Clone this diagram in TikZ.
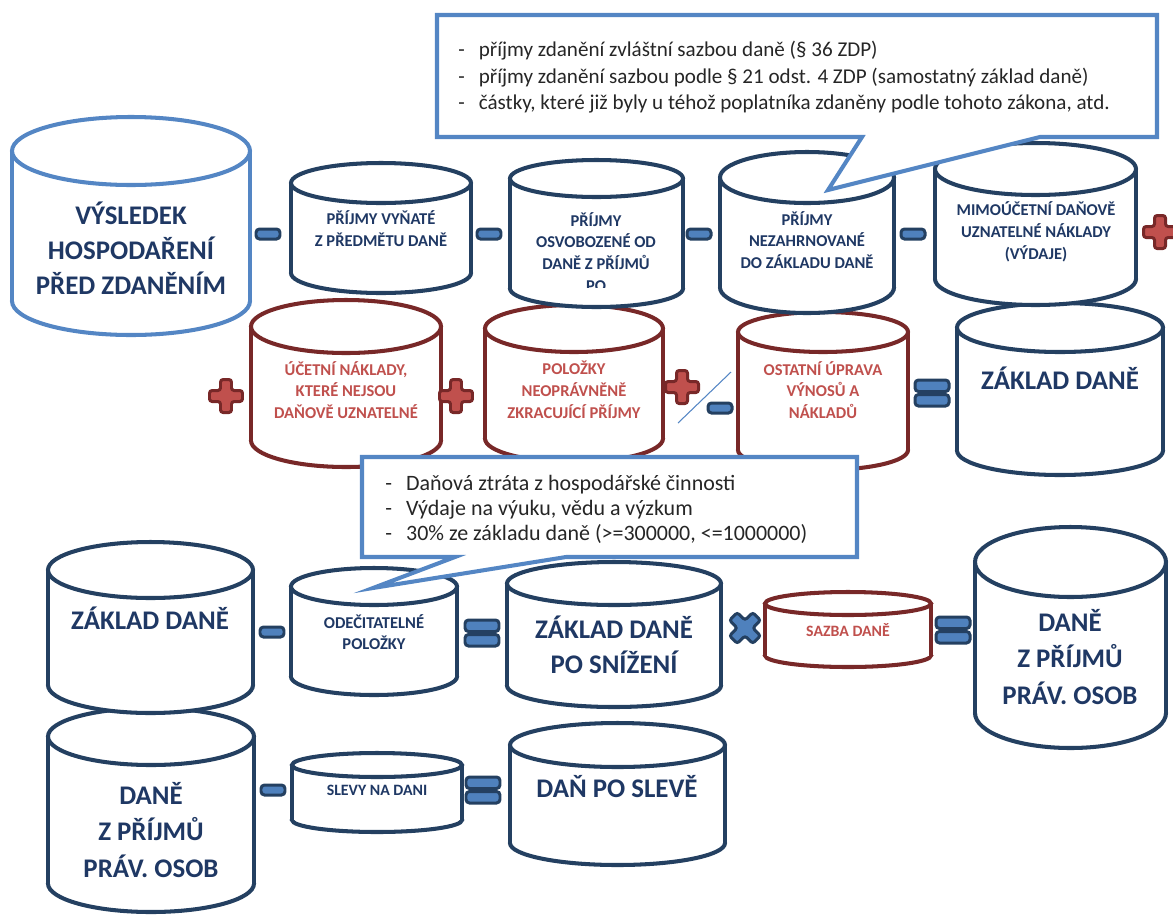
\documentclass[tikz,border=0pt]{standalone}
\usepackage{fontspec}
\setmainfont{Carlito}
\usepackage{tikz}
\usetikzlibrary{calc}

\definecolor{cylblue}{RGB}{36,64,97}
\definecolor{lightblue}{RGB}{84,134,196}
\definecolor{cylred}{RGB}{120,40,40}
\definecolor{txtred}{RGB}{192,80,77}
\definecolor{txtblue}{RGB}{31,56,100}
\definecolor{fillblue}{RGB}{79,129,189}

\tikzset{
  bluecyl/.style={draw=cylblue, line width=2.3pt},
  lightcyl/.style={draw=lightblue, line width=2.3pt},
  redcyl/.style={draw=cylred, line width=2.3pt},
  bigtxt/.style={font=\fontsize{15.3}{20}\selectfont\bfseries, text=txtblue, align=center},
  smalltxt/.style={font=\fontsize{9.4}{12.4}\selectfont\bfseries, text=txtblue, align=center},
  redtxt/.style={smalltxt, text=txtred},
  calloutbox/.style={draw=lightblue, line width=2.3pt, fill=white},
  notetxt/.style={anchor=north west, inner sep=0pt, text=black!85},
  opblue/.style={fill=fillblue, draw=cylblue, line width=1.7pt, rounded corners=2pt},
  opred/.style={fill=txtred, draw=cylred, line width=1.7pt, rounded corners=1.5pt}
}

% cylinder: style, left, right, top, bottom of top ellipse, bottom
\newcommand{\drawcyl}[6]{%
  \pgfmathsetmacro{\cylcx}{(#2+#3)/2}
  \pgfmathsetmacro{\cylrx}{(#3-#2)/2}
  \pgfmathsetmacro{\cylry}{(#5-#4)/2}
  \pgfmathsetmacro{\cylcy}{(#4+#5)/2}
  \pgfmathsetmacro{\cylby}{#6-\cylry}
  \filldraw[#1, fill=white] (\cylcx,\cylby) ellipse[x radius=\cylrx, y radius=\cylry];
  \fill[white] (#2,\cylcy) rectangle (#3,\cylby);
  \draw[#1] (#2,\cylcy) -- (#2,\cylby) (#3,\cylcy) -- (#3,\cylby);
  \filldraw[#1, fill=white] (\cylcx,\cylcy) ellipse[x radius=\cylrx, y radius=\cylry];
}
\newcommand{\minusop}[2]{\filldraw[opblue, shift={(#1,#2)}] (-12,-5) rectangle (12,5);}
\newcommand{\equalsop}[2]{\filldraw[opblue, shift={(#1,#2)}] (-17,-13) rectangle (17,-1.5) (-17,1.5) rectangle (17,13);}
\newcommand{\plusop}[2]{\filldraw[opred, shift={(#1,#2)}] (-5.5,-16.5) -- (5.5,-16.5) -- (5.5,-5.5) -- (16.5,-5.5) -- (16.5,5.5) -- (5.5,5.5) -- (5.5,16.5) -- (-5.5,16.5) -- (-5.5,5.5) -- (-16.5,5.5) -- (-16.5,-5.5) -- (-5.5,-5.5) -- cycle;}
\newcommand{\timesop}[2]{\filldraw[opblue, rounded corners=1.5pt, shift={(#1,#2)}, rotate=45] (-5.5,-16.5) -- (5.5,-16.5) -- (5.5,-5.5) -- (16.5,-5.5) -- (16.5,5.5) -- (5.5,5.5) -- (5.5,16.5) -- (-5.5,16.5) -- (-5.5,5.5) -- (-16.5,5.5) -- (-16.5,-5.5) -- (-5.5,-5.5) -- cycle;}

\begin{document}
\begin{tikzpicture}[x=0.02cm, y=-0.02cm]
  \useasboundingbox (0,0) rectangle (1173,917);

  % row 4
  \drawcyl{bluecyl}{48}{254}{708}{765}{912}
  \node[bigtxt, font=\fontsize{15.3}{21}\selectfont\bfseries] (danposlevebase) at (151,830) {DANĚ\\Z PŘÍJMŮ\\PRÁV. OSOB};
  \drawcyl{bluecyl}{292}{462}{753}{777}{832}
  \node[smalltxt, font=\fontsize{9}{11}\selectfont\bfseries] (slevy) at (377,790) {SLEVY NA DANI};
  \drawcyl{bluecyl}{510}{725}{723}{767}{865}
  \node[bigtxt] (danposleve) at (617,787) {DAŇ PO SLEVĚ};
  \minusop{273}{790}
  \equalsop{483}{790}

  % row 3
  \drawcyl{bluecyl}{48}{253}{542}{598}{713}
  \node[bigtxt] (zakladdane2) at (150,618) {ZÁKLAD DANĚ};
  \drawcyl{bluecyl}{291}{457}{568}{605}{695}
  \node[smalltxt, font=\fontsize{9.4}{12}\selectfont\bfseries] (odecitatelne) at (374,632) {ODEČITATELNÉ\\POLOŽKY};
  \drawcyl{bluecyl}{507}{721}{562}{605}{707}
  \node[bigtxt] (zakladsnizeni) at (614,645) {ZÁKLAD DANĚ\\PO SNÍŽENÍ};
  \drawcyl{redcyl}{765}{931}{592}{615}{667}
  \node[redtxt, font=\fontsize{9}{11}\selectfont\bfseries] (sazba) at (848,630) {SAZBA DANĚ};
  \drawcyl{bluecyl}{975}{1166}{527}{597}{748}
  \node[bigtxt, font=\fontsize{15.3}{21}\selectfont\bfseries] (danprijmy) at (1070,657) {DANĚ\\Z PŘÍJMŮ\\PRÁV. OSOB};
  \minusop{272}{632}
  \equalsop{482}{633}
  \timesop{745}{628}
  \equalsop{953}{630}

  % row 2
  \drawcyl{redcyl}{251}{441}{300}{353}{467}
  \node[redtxt] (ucetninaklady) at (346,390) {ÚČETNÍ NÁKLADY,\\KTERÉ NEJSOU\\DAŇOVĚ UZNATELNÉ};
  \drawcyl{redcyl}{485}{663}{305}{352}{462}
  \node[redtxt] (polozky) at (574,390) {POLOŽKY\\NEOPRÁVNĚNĚ\\ZKRACUJÍCÍ PŘÍJMY};
  \drawcyl{redcyl}{738}{908}{312}{352}{470}
  \node[redtxt] (ostatni) at (823,390) {OSTATNÍ ÚPRAVA\\VÝNOSŮ A\\NÁKLADŮ};
  \drawcyl{bluecyl}{957}{1163}{303}{352}{475}
  \node[bigtxt] (zakladdane) at (1060,378) {ZÁKLAD DANĚ};
  \plusop{226}{396}
  \plusop{456}{396}
  \plusop{682}{387}
  \draw[lightblue, line width=0.6pt] (678,423) -- (731,372);
  \minusop{720}{408}
  \equalsop{932}{393}

  % row 1
  \drawcyl{lightcyl}{12}{250}{117}{185}{335}
  \node[bigtxt] (vysledek) at (131,248) {VÝSLEDEK\\HOSPODAŘENÍ\\PŘED ZDANĚNÍM};
  \drawcyl{bluecyl}{291}{471}{163}{203}{293}
  \node[smalltxt] (vynate) at (381,229) {PŘÍJMY VYŇATÉ\\Z PŘEDMĚTU DANĚ};
  \drawcyl{bluecyl}{510}{683}{160}{197}{307}
  \begin{scope}
    \clip (510,200) rectangle (683,287);
    \node[smalltxt] (osvobozene) at (596,252) {PŘÍJMY\\OSVOBOZENÉ OD\\DANĚ Z PŘÍJMŮ\\PO};
  \end{scope}
  \drawcyl{bluecyl}{720}{894}{152}{203}{313}
  \node[smalltxt] (nezahrnovane) at (807,240) {PŘÍJMY\\NEZAHRNOVANÉ\\DO ZÁKLADU DANĚ};
  \drawcyl{bluecyl}{935}{1136}{143}{195}{305}
  \node[smalltxt] (mimoucetni) at (1036,232) {MIMOÚČETNÍ DAŇOVĚ\\UZNATELNÉ NÁKLADY\\(VÝDAJE)};
  \minusop{268}{234}
  \minusop{489}{234}
  \minusop{699}{234}
  \minusop{913}{234}
  \plusop{1160}{232}

  % callouts
  \filldraw[calloutbox] (437,15) -- (1157,15) -- (1157,137) -- (1040,137) -- (828,190) -- (862,137) -- (437,137) -- cycle;
  \node[notetxt, font=\fontsize{12}{15}\selectfont] (notetop) at (458,38) {\begin{tabular}{@{}l@{\hspace{8pt}}l@{}}
    - & příjmy zdanění zvláštní sazbou daně (§ 36 ZDP)\\
    - & příjmy zdanění sazbou podle § 21 odst. 4 ZDP (samostatný základ daně)\\
    - & částky, které již byly u téhož poplatníka zdaněny podle tohoto zákona, atd.
  \end{tabular}};
  \filldraw[calloutbox] (362,457) -- (857,457) -- (857,557) -- (566,557) -- (373,588) -- (455,557) -- (362,557) -- cycle;
  \node[notetxt, font=\fontsize{12.5}{14.2}\selectfont] (notemid) at (385,473) {\begin{tabular}{@{}l@{\hspace{8pt}}l@{}}
    - & Daňová ztráta z hospodářské činnosti\\
    - & Výdaje na výuku, vědu a výzkum\\
    - & 30\% ze základu daně (>=300000, <=1000000)
  \end{tabular}};
\end{tikzpicture}
\end{document}
